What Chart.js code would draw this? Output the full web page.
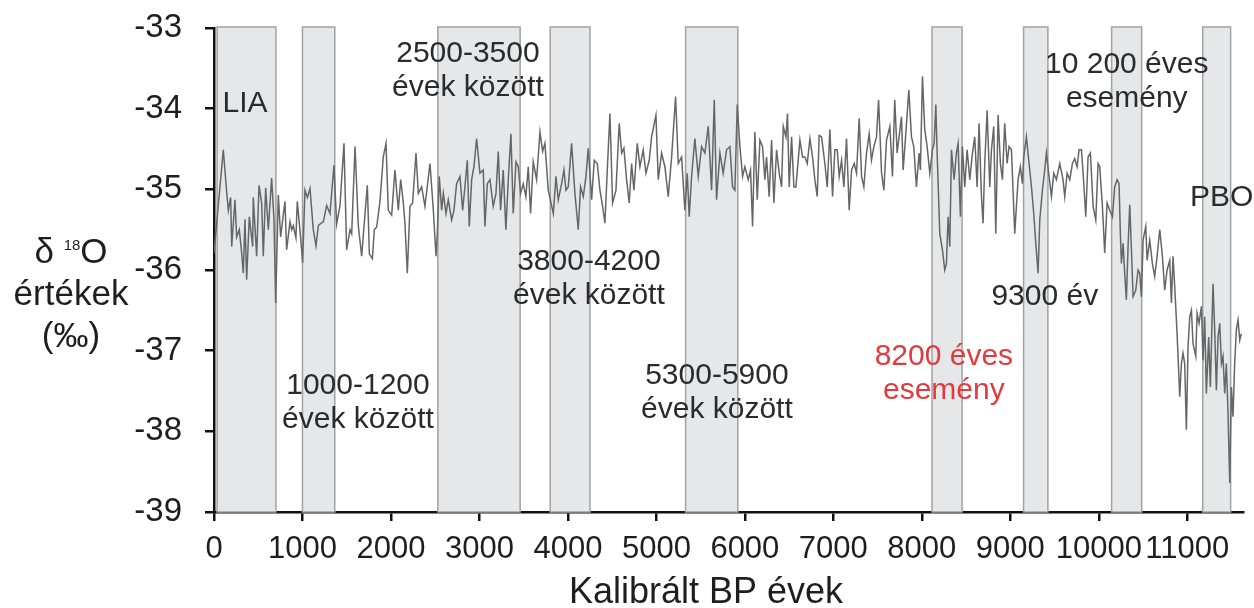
<!DOCTYPE html>
<html lang="hu">
<head>
<meta charset="utf-8">
<title>δ18O értékek – Kalibrált BP évek</title>
<script src="https://cdn.jsdelivr.net/npm/chart.js@4.4.1/dist/chart.umd.min.js"></script>
<style>
  html, body { margin: 0; padding: 0; background: #fff; }
  #wrap { width: 1254px; height: 608px; }
</style>
</head>
<body>
<div id="wrap"><canvas id="isoChart" width="1254" height="608"></canvas></div>
<script>
// δ18O record, calibrated years BP
const years = [
  0, 105, 143, 162, 188, 200, 237, 256, 286, 313, 331, 350, 369, 399, 437, 444, 482, 509, 539, 557,
  584, 614, 651, 678, 697, 727, 753, 802, 821, 859, 878, 896, 926, 941, 971, 1002, 1028, 1055, 1085, 1122,
  1153, 1179, 1198, 1236, 1273, 1311, 1356, 1386, 1424, 1469, 1499, 1537, 1556, 1594, 1631, 1669, 1707, 1733, 1756, 1790,
  1812, 1838, 1876, 1913,
  1944, 1970, 2008, 2045, 2083, 2110, 2140, 2158, 2185, 2215, 2245, 2283, 2309, 2347, 2384, 2441, 2479, 2509, 2524, 2546,
  2573, 2592, 2622, 2648, 2686, 2712, 2742, 2780, 2810, 2836, 2863, 2885, 2912, 2938, 2968, 3006, 3043, 3062, 3089, 3119,
  3156, 3187, 3213, 3239, 3269, 3299, 3326, 3356, 3382, 3413, 3439, 3465, 3495, 3525, 3552, 3578, 3608, 3646, 3684, 3714,
  3740, 3778,
  3835, 3865, 3891, 3929, 3955, 3978, 4004, 4042, 4079, 4117, 4143, 4174, 4204, 4230, 4249, 4268, 4298, 4332, 4362, 4392,
  4418, 4445, 4475, 4505, 4543, 4580, 4607, 4633, 4663, 4693, 4720, 4746, 4784, 4814, 4851, 4882, 4919, 4946, 4995, 5021,
  5059, 5096, 5134, 5172, 5217, 5247, 5285, 5322, 5349, 5371, 5398, 5435, 5473, 5511, 5548, 5586, 5624, 5654, 5680, 5718,
  5755,
  5793, 5831, 5861, 5887, 5914, 5944, 5974, 6000, 6038, 6064, 6087, 6113, 6140, 6170, 6200, 6226, 6245, 6275, 6302, 6328,
  6358, 6388, 6415, 6434, 6464, 6482, 6501, 6528, 6554, 6577, 6622, 6652, 6678, 6705, 6735, 6765, 6791, 6818, 6840, 6867,
  6904, 6931, 6961, 6991, 7017, 7044, 7066, 7093, 7119, 7149, 7179, 7206, 7236, 7262, 7292, 7319, 7345, 7375, 7405, 7431,
  7458, 7488, 7511, 7545, 7571, 7601, 7639,
  7668, 7694, 7721, 7743, 7770, 7789, 7819, 7853, 7883, 7909, 7939, 7969, 7984, 8007, 8033, 8060, 8090, 8120, 8139, 8158,
  8173, 8203, 8233, 8259, 8278, 8297, 8316, 8335, 8365, 8391, 8410, 8436, 8459, 8485, 8512, 8542, 8572, 8598, 8625, 8647,
  8674, 8692, 8711, 8738, 8768, 8787, 8813, 8836, 8862, 8888, 8911, 8937, 8964, 8986, 9013, 9050, 9088, 9114, 9137, 9152,
  9182, 9212, 9239, 9265, 9288, 9314, 9333, 9363, 9389, 9408, 9438, 9465, 9491, 9521, 9559, 9596,
  9615, 9642, 9672, 9702, 9728, 9755, 9777, 9804, 9823, 9853, 9879, 9905, 9936, 9966, 9992, 10011, 10041, 10067, 10094, 10124,
  10154, 10180, 10207, 10229, 10244, 10256, 10275, 10293, 10312, 10331, 10350, 10369, 10388, 10418, 10444, 10463, 10482, 10501, 10531, 10546,
  10576, 10606, 10632, 10659, 10689, 10719, 10745, 10772, 10802, 10821, 10839, 10858, 10885, 10915, 10934, 10952, 10971, 10990, 11009, 11028,
  11047, 11065, 11096, 11111, 11133, 11160, 11178, 11197, 11216, 11242, 11261, 11291, 11310, 11329, 11348, 11367, 11386, 11404, 11423, 11442,
  11461, 11480, 11499, 11517, 11536, 11555, 11574, 11593, 11611
];

const d18O = [
  -35.79, -34.51, -35.03, -35.26, -35.10, -35.71, -35.13, -35.59, -35.50, -35.79, -36.04, -35.37, -36.12, -35.34, -35.71, -35.10, -35.83, -34.95, -35.17, -35.83,
  -34.98, -35.50, -34.86, -35.37, -36.41, -35.07, -35.59, -35.15, -35.75, -35.40, -35.50, -35.45, -35.60, -35.15, -35.50, -35.91, -35.01, -35.10, -34.99, -35.50,
  -35.70, -35.45, -35.43, -35.40, -35.20, -35.30, -34.70, -35.43, -35.20, -34.43, -35.75, -35.50, -35.55, -34.47, -35.45, -35.83, -35.30, -34.95, -35.80, -35.86,
  -35.50, -35.47, -35.15, -34.60,
  -34.43, -35.26, -35.32, -34.76, -35.26, -34.88, -35.17, -35.42, -36.04, -35.21, -35.17, -34.55, -35.05, -34.97, -35.21, -34.68, -35.26, -35.83, -35.55, -34.84,
  -35.26, -35.05, -35.30, -35.13, -35.38, -35.26, -34.93, -34.84, -35.26, -34.97, -34.64, -35.46, -34.88, -34.72, -34.37, -34.80, -34.76, -35.46, -34.93, -34.88,
  -35.21, -35.05, -34.53, -35.26, -34.76, -35.50, -34.88, -34.31, -35.30, -34.66, -34.72, -35.05, -34.93, -35.09, -34.72, -35.30, -34.66, -34.88, -34.29, -34.53,
  -34.43, -35.01,
  -35.30, -34.84, -35.13, -34.93, -34.76, -35.01, -34.97, -34.43, -35.05, -35.50, -34.97, -35.09, -34.84, -34.49, -34.80, -35.13, -34.64, -34.68, -35.01, -35.21,
  -35.42, -34.76, -34.06, -35.17, -35.01, -34.18, -34.55, -34.49, -34.88, -35.17, -34.68, -35.01, -34.43, -34.72, -34.51, -34.80, -34.64, -34.35, -34.08, -34.88,
  -34.55, -34.72, -35.09, -34.60, -33.85, -34.68, -34.60, -35.26, -34.80, -35.34, -34.84, -34.37, -34.84, -34.47, -34.55, -34.22, -35.01, -33.89, -35.13, -34.55,
  -34.80,
  -34.51, -34.47, -34.97, -35.01, -33.95, -34.47, -34.84, -34.72, -34.88, -34.76, -35.46, -34.29, -35.13, -34.39, -34.47, -34.88, -34.60, -35.09, -34.39, -35.17,
  -34.51, -34.80, -34.97, -34.22, -34.35, -34.06, -34.97, -34.35, -34.97, -34.97, -34.39, -34.60, -34.60, -34.68, -34.37, -34.60, -34.88, -35.09, -34.33, -34.35,
  -34.68, -34.97, -34.26, -35.09, -34.51, -34.51, -34.84, -34.64, -34.97, -34.37, -35.26, -34.76, -34.68, -34.80, -34.12, -34.84, -34.97, -34.55, -34.31, -34.64,
  -34.47, -34.35, -33.89, -34.80, -35.01, -34.39, -34.22,
  -34.84, -33.89, -34.55, -34.35, -34.10, -34.76, -34.31, -33.77, -34.35, -34.47, -34.97, -34.55, -34.76, -33.60, -34.26, -34.47, -34.80, -34.51, -34.43, -33.95,
  -34.55, -35.55, -35.75, -36.00, -35.92, -35.34, -35.71, -34.51, -34.88, -34.55, -34.43, -35.34, -34.47, -34.97, -34.51, -34.88, -34.55, -34.35, -34.97, -34.18,
  -35.09, -35.42, -34.68, -34.02, -34.97, -34.51, -34.22, -35.55, -34.08, -34.68, -34.88, -34.18, -34.68, -34.47, -34.51, -35.55, -34.88, -34.72, -34.93, -34.60,
  -34.35, -34.68, -34.97, -35.30, -35.67, -36.04, -35.38, -35.01, -34.76, -34.55, -34.84, -35.09, -34.80, -34.88, -34.68, -34.88,
  -35.09, -34.80, -34.88, -34.68, -34.62, -34.72, -34.51, -34.51, -34.80, -35.34, -34.60, -34.55, -35.21, -35.38, -34.68, -34.72, -35.21, -35.79, -35.17, -35.26,
  -35.34, -34.97, -34.88, -34.93, -35.55, -35.92, -35.67, -36.04, -36.37, -35.71, -35.19, -35.75, -36.33, -36.25, -36.00, -36.04, -36.33, -35.63, -35.46, -35.88,
  -35.63, -35.92, -36.08, -35.83, -35.50, -35.83, -36.25, -36.00, -35.88, -36.41, -35.83, -36.20, -36.79, -37.57, -37.16, -37.03, -37.16, -37.98, -36.95, -36.58,
  -36.50, -36.91, -37.07, -36.54, -36.66, -36.45, -37.12, -36.58, -37.53, -36.83, -37.45, -36.17, -36.74, -37.49, -36.83, -36.66, -37.16, -37.07, -37.53, -37.16,
  -37.78, -38.64, -37.45, -37.82, -37.16, -36.74, -36.62, -36.87, -36.79
];

// climate events shaded on the chart (start / end, years BP)
const bandStart = [35, 1000, 2530, 3800, 5330, 8115, 9150, 10145, 11175];
const bandEnd   = [700, 1365, 3460, 4250, 5920, 8455, 9425, 10485, 11490];

// axis ticks
const xTicks = [0, 1000, 2000, 3000, 4000, 5000, 6000, 7000, 8000, 9000, 10000, 11000];
const yTicks = [-39, -38, -37, -36, -35, -34, -33];

// event labels
const noteLines = [
  ['LIA'],
  ['2500-3500', 'évek között'],
  ['1000-1200', 'évek között'],
  ['3800-4200', 'évek között'],
  ['5300-5900', 'évek között'],
  ['8200 éves', 'esemény'],
  ['9300 év'],
  ['10 200 éves', 'esemény'],
  ['PBO']
];
const noteYear  = [350, 2870, 1627, 4237, 5684, 8249, 9390, 10316, 11390];
const noteValue = [-33.94, -33.32, -37.44, -35.90, -37.31, -37.08, -36.33, -33.45, -35.11];
const noteColor = ['#2b2b2b', '#2b2b2b', '#2b2b2b', '#2b2b2b', '#2b2b2b', '#e23a3e', '#2b2b2b', '#2b2b2b', '#2b2b2b'];

const FONT = "'Liberation Sans', Arial, Helvetica, sans-serif";
const X_MAX = 11630;

const points = years.map((yr, i) => ({ x: yr, y: d18O[i] }));

const bandsPlugin = {
  id: 'bands',
  beforeDatasetsDraw(chart) {
    const { ctx, scales: { x, y } } = chart;
    const top = y.getPixelForValue(-33) - 1;
    const bottom = y.getPixelForValue(-39);
    ctx.save();
    ctx.fillStyle = '#e6e7e9';
    ctx.strokeStyle = '#a2a2a2';
    ctx.lineWidth = 1.5;
    bandStart.forEach((s, i) => {
      const x0 = x.getPixelForValue(s);
      const x1 = x.getPixelForValue(bandEnd[i]);
      ctx.fillRect(x0, top, x1 - x0, bottom - top);
      ctx.strokeRect(x0, top, x1 - x0, bottom - top);
    });
    ctx.restore();
  }
};

const notesPlugin = {
  id: 'notes',
  afterDatasetsDraw(chart) {
    const { ctx, scales: { x, y } } = chart;
    ctx.save();
    ctx.font = '30px ' + FONT;
    ctx.textAlign = 'center';
    ctx.textBaseline = 'middle';
    noteLines.forEach((lines, i) => {
      const px = x.getPixelForValue(noteYear[i]);
      const py = y.getPixelForValue(noteValue[i]);
      ctx.fillStyle = noteColor[i];
      lines.forEach((t, k) => ctx.fillText(t, px, py + k * 34));
    });
    ctx.restore();
  }
};

// axis titles: δ18O with superscript mass number, and the time axis
const titlesPlugin = {
  id: 'titles',
  afterDraw(chart) {
    const { ctx, chartArea, scales: { y } } = chart;
    const cx = chartArea.left - 143;
    const base = y.getPixelForValue(-36);
    ctx.save();
    ctx.fillStyle = '#1e1e1e';
    ctx.textBaseline = 'alphabetic';

    const big = '35px ' + FONT, small = '15px ' + FONT;
    ctx.font = big;
    const wD = ctx.measureText('δ ').width;
    const wO = ctx.measureText('O').width;
    ctx.font = small;
    const w18 = ctx.measureText('18').width;
    const sx = cx - (wD + w18 + wO) / 2;
    ctx.textAlign = 'left';
    ctx.font = big;
    ctx.fillText('δ ', sx, base - 7);
    ctx.font = small;
    ctx.fillText('18', sx + wD, base - 20);
    ctx.font = big;
    ctx.fillText('O', sx + wD + w18, base - 7);

    ctx.textAlign = 'center';
    ctx.fillText('értékek', cx, base + 35);
    ctx.fillText('(‰)', cx, base + 77);

    ctx.font = '36px ' + FONT;
    ctx.fillText('Kalibrált BP évek', chartArea.left + 492, 603);
    ctx.restore();
  }
};

new Chart(document.getElementById('isoChart'), {
  type: 'line',
  data: {
    datasets: [{
      data: points,
      borderColor: '#666666',
      borderWidth: 1.5,
      pointRadius: 0,
      tension: 0,
      fill: false
    }]
  },
  options: {
    responsive: false,
    animation: false,
    parsing: false,
    layout: { padding: { top: 28, right: 11, left: 0, bottom: 0 } },
    plugins: { legend: { display: false }, tooltip: { enabled: false } },
    scales: {
      x: {
        type: 'linear',
        min: 0,
        max: X_MAX,
        z: 1,
        afterFit: s => { s.height = 96; s.paddingLeft = 0; s.paddingRight = 0; },
        afterBuildTicks: s => { s.ticks = xTicks.map(v => ({ value: v })); },
        border: { display: true, color: '#111', width: 2.5 },
        grid: { drawOnChartArea: false, drawTicks: true, tickLength: 9, color: '#111', lineWidth: 2.5 },
        ticks: { color: '#1e1e1e', font: { family: FONT, size: 31 }, padding: 10, maxRotation: 0, callback: v => String(v) }
      },
      y: {
        min: -39,
        max: -33,
        z: 1,
        afterFit: s => { s.width = 214; s.paddingTop = 0; s.paddingBottom = 0; },
        afterBuildTicks: s => { s.ticks = yTicks.map(v => ({ value: v })); },
        border: { display: true, color: '#111', width: 2.5 },
        grid: { drawOnChartArea: false, drawTicks: true, tickLength: 9, color: '#111', lineWidth: 2.5 },
        ticks: { color: '#1e1e1e', font: { family: FONT, size: 33 }, padding: 23, callback: v => String(v) }
      }
    }
  },
  plugins: [bandsPlugin, notesPlugin, titlesPlugin]
});
</script>
</body>
</html>
